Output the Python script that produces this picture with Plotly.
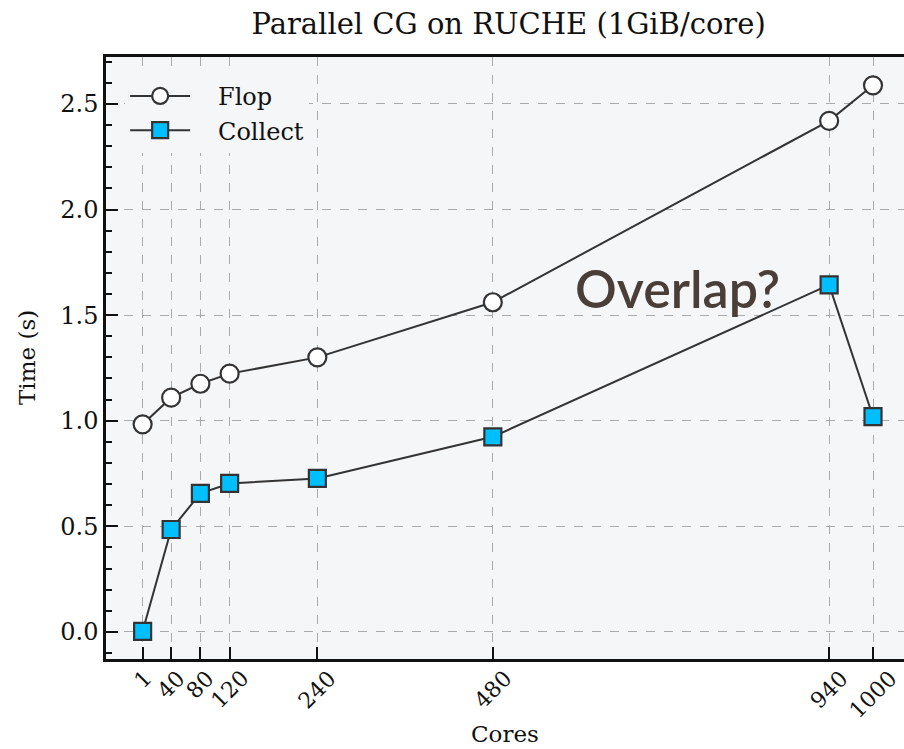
import plotly.graph_objects as go

cores = [1, 40, 80, 120, 240, 480, 940, 1000]
flop = [0.983, 1.109, 1.175, 1.223, 1.300, 1.561, 2.420, 2.588]
collect = [0.003, 0.485, 0.656, 0.703, 0.727, 0.924, 1.643, 1.019]
tick_labels = [str(c) for c in cores]
y_ticks = [0.0, 0.5, 1.0, 1.5, 2.0, 2.5]

SERIF = "DejaVu Serif"
DARK = "#333333"
BG = "#f5f6f8"
NB = "\u00a0"

fig = go.Figure()
fig.add_trace(go.Scatter(
    x=cores, y=flop, name=NB * 3 + "Flop", mode="lines+markers",
    line=dict(color=DARK, width=2),
    marker=dict(symbol="circle", size=18, color="white", line=dict(color=DARK, width=2.2)),
))
fig.add_trace(go.Scatter(
    x=cores, y=collect, name=NB * 3 + "Collect", mode="lines+markers",
    line=dict(color=DARK, width=2),
    marker=dict(symbol="square", size=17, color="#00bfff", line=dict(color=DARK, width=2.2)),
))

fig.add_annotation(
    x=733, y=1.63, xref="x", yref="y", text="Overlap?", showarrow=False,
    font=dict(family="Lato", size=52, color="#4a3f38", weight=600),
)

# x tick labels, rotated and centred under each tick (matplotlib style)
for c, lab in zip(cores, tick_labels):
    fig.add_annotation(
        x=c, y=-0.009, xref="x", yref="paper", text=lab, showarrow=False,
        textangle=-45, xanchor="center", yanchor="top", borderpad=0,
        font=dict(family=SERIF, size=22, color="#111"),
    )
fig.add_annotation(
    x=0.5, y=-(734 - 659) / 602, xref="paper", yref="paper", text="Cores",
    showarrow=False, xanchor="center", yanchor="middle",
    font=dict(family=SERIF, size=23, color="#111"),
)
fig.add_annotation(
    x=(27 - 106) / 798, y=0.5, xref="paper", yref="paper", text="Time (s)",
    showarrow=False, xanchor="center", yanchor="middle", textangle=-90,
    font=dict(family=SERIF, size=23, color="#111"),
)

fig.update_layout(
    width=904, height=749,
    margin=dict(l=106, r=0, t=57, b=90, autoexpand=False),
    paper_bgcolor="white", plot_bgcolor=BG,
    title=dict(text="Parallel CG on RUCHE (1GiB/core)", x=0.5045, xref="paper", xanchor="center",
               y=1 - 24 / 749, yanchor="middle",
               font=dict(family=SERIF, size=29, color="#111")),
    font=dict(family=SERIF, size=24, color="#111"),
    showlegend=True,
    legend=dict(x=0.024, y=0.972, xanchor="left", yanchor="top",
                bgcolor=BG, borderwidth=0, font=dict(family=SERIF, size=24, color="#111"),
                itemwidth=60, tracegroupgap=4),
)

fig.update_xaxes(
    automargin=False,
    range=[-49.1, 1042.4], tickmode="array", tickvals=cores,
    showticklabels=False,
    ticks="inside", ticklen=12, tickwidth=2, tickcolor="#111",
    showline=True, linewidth=2.5, linecolor="#111", mirror=True,
    showgrid=True, gridcolor="#aaaaaa", griddash="dash", gridwidth=1,
    zeroline=False,
)
fig.update_yaxes(
    automargin=False,
    range=[-0.128, 2.722], tickmode="array", tickvals=y_ticks,
    ticktext=[f"{v:.1f}" for v in y_ticks],
    ticks="inside", ticklen=12, tickwidth=2, tickcolor="#111",
    minor=dict(dtick=0.1, tick0=0, ticks="inside", ticklen=6, tickwidth=1.5, tickcolor="#111", showgrid=False),
    showline=True, linewidth=2.5, linecolor="#111", mirror=False,
    showgrid=True, gridcolor="#aaaaaa", griddash="dash", gridwidth=1,
    zeroline=False,
    tickfont=dict(family=SERIF, size=24),
)

fig.write_html("out.html")
